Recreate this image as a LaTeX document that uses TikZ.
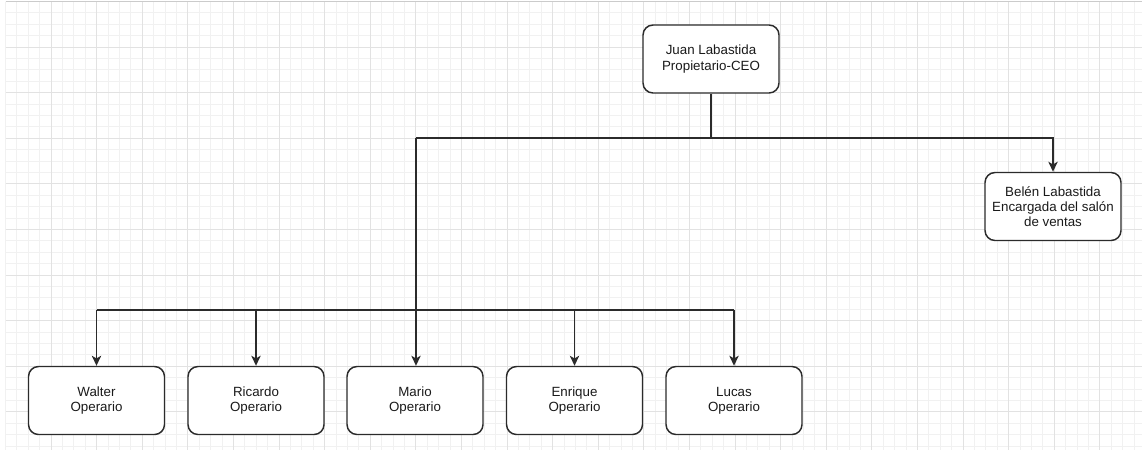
\documentclass[tikz,border=0pt]{standalone}
\usepackage{fontspec}
\setmainfont{Liberation Sans}
\usetikzlibrary{arrows.meta,positioning,calc}
\definecolor{orgLine}{HTML}{2B2B2B}
\definecolor{orgText}{HTML}{1A1A1A}
\definecolor{gridMinor}{HTML}{F1F1F1}
\definecolor{gridMajor}{HTML}{E2E2E2}

\begin{document}
\begin{tikzpicture}[x=0.75pt,y=-0.75pt,font=\fontsize{10}{11.5}\selectfont,
    pcard/.style={draw=orgLine,line width=1.1pt,rounded corners=7.5pt,fill=white,
                  text=orgText,minimum width=102pt,minimum height=51pt,align=center,
                  inner sep=2pt},
    link/.style={draw=orgLine,line width=1.1pt},
    linkto/.style={link,-{Stealth[length=7.5pt,width=7pt,inset=2pt]}}]
  \useasboundingbox (0,0) rectangle (1142,450);
  % background grid
  \begin{scope}
    \clip (5.5,1.5) rectangle (1142,450);
    \foreach \i in {0,...,100}
      \draw[gridMinor,line width=0.75pt] ({5.5+11.4*\i},1.5) -- ({5.5+11.4*\i},450);
    \foreach \j in {0,...,39}
      \draw[gridMinor,line width=0.75pt] (5.5,{1.5+11.4*\j}) -- (1142,{1.5+11.4*\j});
    \foreach \i in {0,...,25}
      \draw[gridMajor,line width=0.75pt] ({5.5+45.6*\i},1.5) -- ({5.5+45.6*\i},450);
    \foreach \j in {0,...,10}
      \draw[gridMajor,line width=0.75pt] (5.5,{1.5+45.6*\j}) -- (1142,{1.5+45.6*\j});
  \end{scope}
  \draw[gridMajor!90!black,line width=1pt] (5.5,1.5) -- (1142,1.5);

  \node[pcard] (ceo)     at (711,59)    {Juan Labastida\\Propietario-CEO};
  \node[pcard] (belen)   at (1053,206.5) {Belén Labastida\\Encargada del salón\\de ventas};
  \node[pcard] (walter)  at (96.5,400.5) {Walter\\Operario};
  \node[pcard] (ricardo) at (256,400.5) {Ricardo\\Operario};
  \node[pcard] (mario)   at (415,400.5) {Mario\\Operario};
  \node[pcard] (enrique) at (574.5,400.5) {Enrique\\Operario};
  \node[pcard] (lucas)   at (734,400.5) {Lucas\\Operario};

  \coordinate (hub) at (416,138);
  \coordinate (bus) at (0,310);

  \draw[link] (ceo.south) -- (ceo.south |- hub);
  \draw[linkto] (hub) -| (belen.north);
  \draw[linkto] (hub) -- (hub |- mario.north);
  \draw[link] (walter.north |- bus) -- (lucas.north |- bus);
  \foreach \who in {walter,ricardo,enrique,lucas}
    \draw[linkto] (\who.north |- bus) -- (\who.north);
\end{tikzpicture}
\end{document}
